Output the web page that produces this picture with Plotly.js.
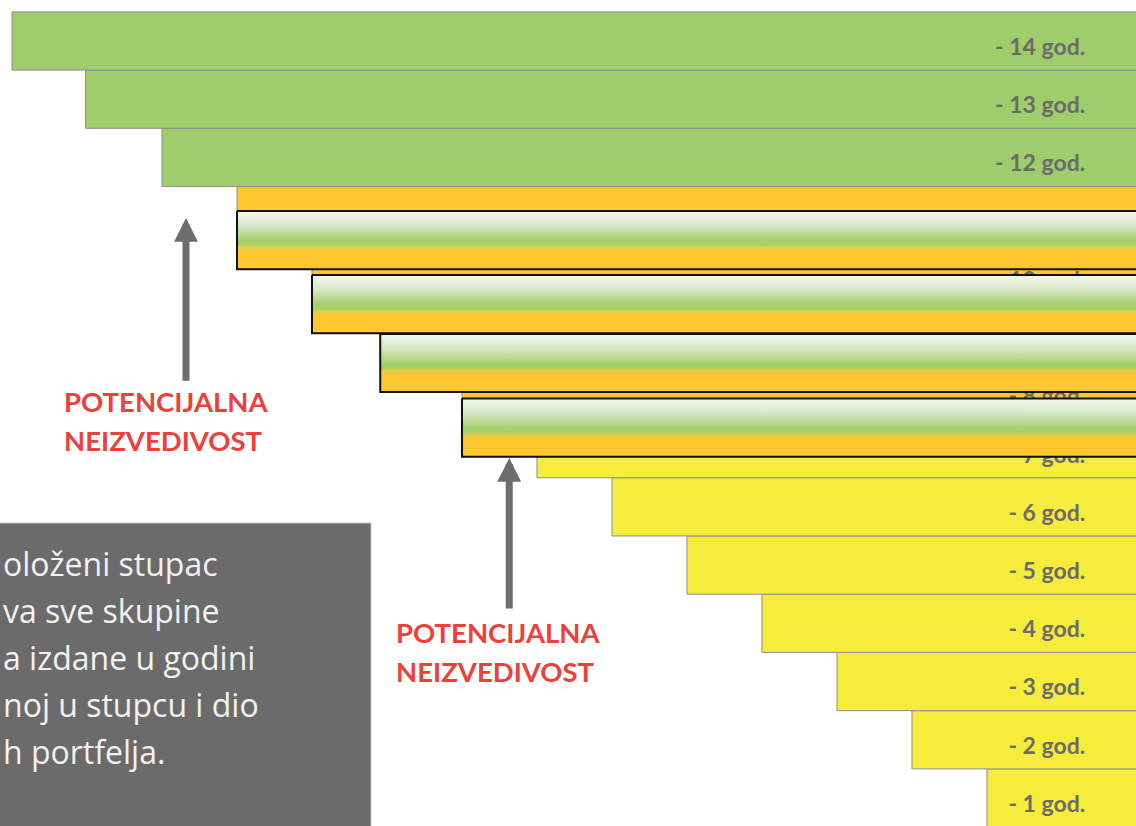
<!DOCTYPE html>
<html>
<head>
<meta charset="utf-8">
<script src="https://cdn.plot.ly/plotly-3.0.1.min.js"></script>
<style>
  html, body { margin: 0; padding: 0; background: #ffffff; }
  #chart { width: 1136px; height: 826px; }
</style>
</head>
<body>
<div id="chart"></div>
<script>
// ---- data ----
const years      = [1, 2, 3, 4, 5, 6, 7, 8, 9, 10, 11, 12, 13, 14];
const barStart   = [13, 12, 11, 10, 9, 8, 7, 6, 4.91, 4, 3, 2, 0.98, 0];
const barGroup   = ['y','y','y','y','y','y','y','o','o','o','o','g','g','g'];
const yearLabels = ['- 1 god.','- 2 god.','- 3 god.','- 4 god.','- 5 god.','- 6 god.','- 7 god.',
                    '- 8 god.','- 9 god.','- 10 god.','- 11 god.','- 12 god.','- 13 god.','- 14 god.'];
const boxYears   = [11, 10, 9, 8];
const boxCenters = [10.58, 9.48, 8.47, 7.36];
const noteText   = ['oloženi stupac', 'va sve skupine', 'a izdane u godini', 'noj u stupcu i dio', 'h portfelja.'];
const calloutText = ['POTENCIJALNA', 'NEIZVEDIVOST'];

// ---- styling ----
const groupColor = { y: '#f6ec3b', o: '#fec72e', g: '#9fcd6b' };
const barEnd = 16;          // bars run off the right edge
const boxHeight = 1.0;
const labelX = 14.31;
const labelDy = -0.14;

const traces = [];

traces.push({
  type: 'bar',
  orientation: 'h',
  y: years,
  base: barStart,
  x: barStart.map(s => barEnd - s),
  width: 1,
  marker: {
    color: barGroup.map(g => groupColor[g]),
    line: { color: '#8f8f8f', width: 1 }
  },
  hoverinfo: 'skip'
});

traces.push({
  type: 'scatter',
  mode: 'text',
  x: years.map(() => labelX),
  y: years.map(v => v + labelDy),
  text: yearLabels,
  textposition: 'middle left',
  textfont: { family: 'Lato, "Open Sans", sans-serif', size: 23, color: '#6b6b6b', weight: 'bold' },
  cliponaxis: false,
  hoverinfo: 'skip'
});

boxYears.forEach((yr, i) => {
  const s = barStart[years.indexOf(yr)];
  const top = boxCenters[i] + boxHeight / 2;
  const bot = boxCenters[i] - boxHeight / 2;
  traces.push({
    type: 'scatter',
    mode: 'lines',
    x: [s, barEnd, barEnd, s, s],
    y: [top, top, bot, bot, top],
    fill: 'toself',
    fillgradient: {
      type: 'vertical',
      colorscale: [
        [0.00, '#fec72e'],
        [0.30, '#fec72e'],
        [0.37, '#e6cf4a'],
        [0.43, '#a4cd66'],
        [0.50, '#a9d06f'],
        [0.75, '#d5e8c7'],
        [1.00, '#f3f7f1']
      ]
    },
    line: { color: '#111111', width: 2 },
    hoverinfo: 'skip'
  });
});

const annotations = [];
const redFont = { family: 'Lato, "Open Sans", sans-serif', size: 27.5, color: '#ef3f3b', weight: 'bold' };

// arrows
[[2.32, 10.96, 2.32, 8.14], [6.63, 6.84, 6.63, 4.23]].forEach(a => {
  annotations.push({
    x: a[0], y: a[1], ax: a[2], ay: a[3], xref: 'x', yref: 'y', axref: 'x', ayref: 'y',
    text: '', showarrow: true, arrowhead: 2, arrowsize: 0.68, arrowwidth: 7,
    arrowcolor: '#6d6d6d', standoff: 0, startstandoff: 0
  });
});

// red callouts (paper coords, left anchored)
[[62, 401], [394, 632]].forEach(p => {
  calloutText.forEach((t, j) => {
    annotations.push({
      xref: 'paper', yref: 'paper',
      x: p[0] / 1136, y: 1 - (p[1] + j * 39) / 826,
      xanchor: 'left', yanchor: 'middle',
      text: t, showarrow: false, font: redFont
    });
  });
});

// note text inside grey box
noteText.forEach((t, j) => {
  annotations.push({
    xref: 'paper', yref: 'paper',
    x: 0.001, y: 1 - (563 + j * 47) / 826,
    xanchor: 'left', yanchor: 'middle',
    text: t, showarrow: false,
    font: { family: '"Open Sans", Lato, sans-serif', size: 32, color: '#f2f2f2' }
  });
});

const layout = {
  width: 1136, height: 826,
  margin: { l: 0, r: 0, t: 0, b: 0, pad: 0 },
  paper_bgcolor: '#ffffff', plot_bgcolor: '#ffffff',
  showlegend: false,
  bargap: 0,
  xaxis: { range: [-0.16, 14.987], visible: false, fixedrange: true },
  yaxis: { range: [0.519, 14.704], visible: false, fixedrange: true },
  shapes: [{
    type: 'rect', xref: 'paper', yref: 'paper',
    x0: -0.01, x1: 371 / 1136, y0: -0.05, y1: 1 - 523 / 826,
    fillcolor: '#6b6b6b', line: { color: '#c4c4c4', width: 1 }, layer: 'above'
  }],
  annotations: annotations
};

Plotly.newPlot('chart', traces, layout, { staticPlot: true, displayModeBar: false });
</script>
</body>
</html>
